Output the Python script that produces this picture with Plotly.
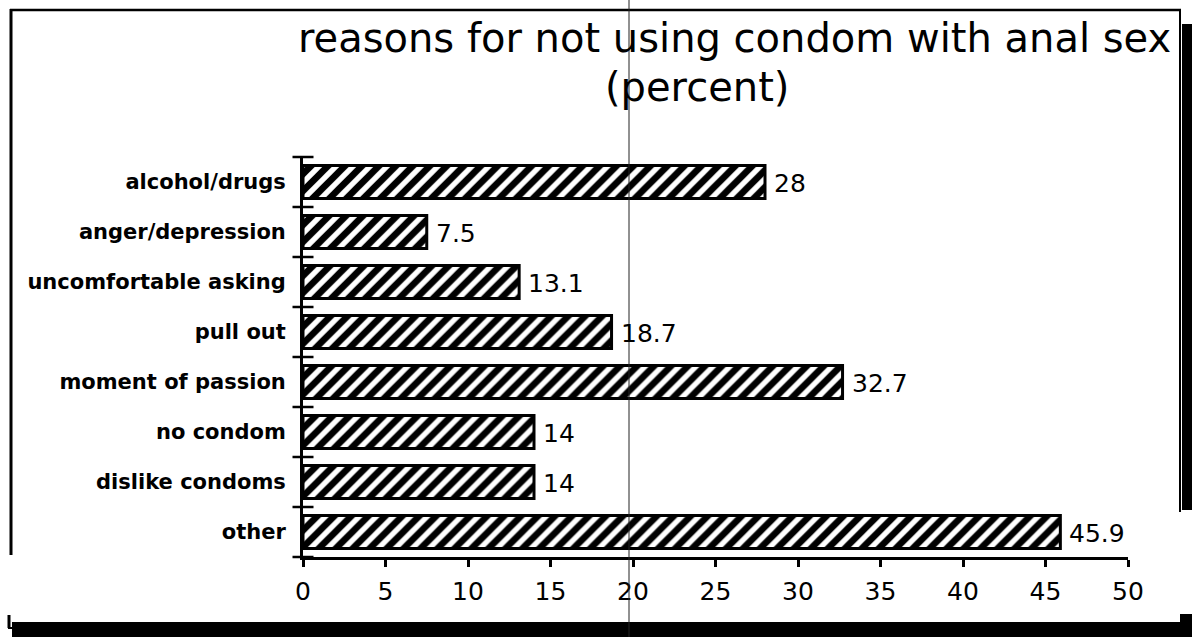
import plotly.graph_objects as go

# Survey results: reasons given for not using a condom with anal sex (percent)
categories = [
    "alcohol/drugs",
    "anger/depression",
    "uncomfortable asking",
    "pull out",
    "moment of passion",
    "no condom",
    "dislike condoms",
    "other",
]
percents = [28, 7.5, 13.1, 18.7, 32.7, 14, 14, 45.9]
x_tick_values = [0, 5, 10, 15, 20, 25, 30, 35, 40, 45, 50]

title_line1 = "reasons for not using condom with anal sex"
title_line2 = "(percent)"

W, H = 1192, 637
ML, MR, MT, MB = 303, 64, 157, 80
PW, PH = W - ML - MR, H - MT - MB


def px_x(p):
    """Page pixel column -> paper x."""
    return (p - ML) / PW


def px_y(p):
    """Page pixel row -> paper y."""
    return (H - MB - p) / PH


positions = list(range(len(categories)))
boundaries = [p - 0.5 for p in positions] + [positions[-1] + 0.5]

fig = go.Figure()

fig.add_trace(go.Bar(
    orientation="h",
    x=percents,
    y=positions,
    width=0.66,
    marker=dict(
        color="white",
        line=dict(color="black", width=3),
        pattern=dict(shape="/", fgcolor="black", bgcolor="white",
                     fgopacity=1, size=12, solidity=0.55),
    ),
    cliponaxis=False,
    hoverinfo="skip",
))

# cross-shaped category separators on the value axis
fig.add_trace(go.Scatter(
    x=[0] * len(boundaries),
    y=boundaries,
    mode="markers",
    marker=dict(symbol="line-ew", size=15, line=dict(color="black", width=2.5)),
    cliponaxis=False,
    hoverinfo="skip",
    showlegend=False,
))

fig.update_xaxes(
    range=[0, 50],
    tickmode="array",
    tickvals=x_tick_values,
    ticks="outside",
    ticklen=7,
    tickwidth=2.5,
    tickcolor="black",
    ticklabelstandoff=3,
    tickfont=dict(family="DejaVu Sans", size=25, color="black"),
    showline=True,
    linecolor="black",
    linewidth=3,
    showgrid=False,
    zeroline=False,
)

fig.update_yaxes(
    range=[positions[-1] + 0.5, -0.5],
    tickmode="array",
    tickvals=positions,
    ticktext=categories,
    ticks="",
    ticklabelstandoff=10,
    tickfont=dict(family="DejaVu Sans", size=21, color="black", weight="bold"),
    showline=True,
    linecolor="black",
    linewidth=3,
    showgrid=False,
    zeroline=False,
)

# value labels just past the end of each bar
value_labels = [
    dict(text=f"{v:g}", x=v, y=p, xref="x", yref="y",
         xanchor="left", yanchor="middle", xshift=7, yshift=-1, showarrow=False,
         font=dict(family="DejaVu Sans", size=25, color="black"))
    for v, p in zip(percents, positions)
]

titles = [
    dict(text=title_line1, x=px_x(734), y=px_y(38), xref="paper", yref="paper",
         xanchor="center", yanchor="middle", showarrow=False,
         font=dict(family="DejaVu Sans", size=40, color="black")),
    dict(text=title_line2, x=px_x(697), y=px_y(87), xref="paper", yref="paper",
         xanchor="center", yanchor="middle", showarrow=False,
         font=dict(family="DejaVu Sans", size=40, color="black")),
]


def line(x0, y0, x1, y1, w, color="black"):
    return dict(type="line", xref="paper", yref="paper",
                x0=px_x(x0), y0=px_y(y0), x1=px_x(x1), y1=px_y(y1),
                line=dict(color=color, width=w), layer="above")


def block(x0, y0, x1, y1):
    return dict(type="rect", xref="paper", yref="paper",
                x0=px_x(x0), y0=px_y(y0), x1=px_x(x1), y1=px_y(y1),
                fillcolor="black", line=dict(width=0), layer="above")


shapes = [
    # page frame with drop shadow
    line(10, 10, 1181, 10, 2.5),
    line(11, 9, 11, 555, 3),
    line(1180, 9, 1180, 512, 2),
    block(1182, 24, 1192, 510),
    block(12, 622, 1180, 637),
    block(1180, 614, 1192, 637),
    line(9, 615, 9, 628, 3),
    line(8, 628, 14, 628, 2),
    # thin vertical rule across the page
    line(629, 0, 629, 637, 1, "#222"),
]

fig.update_layout(
    width=W,
    height=H,
    autosize=False,
    margin=dict(l=ML, r=MR, t=MT, b=MB, pad=0),
    paper_bgcolor="white",
    plot_bgcolor="white",
    showlegend=False,
    annotations=titles + value_labels,
    shapes=shapes,
    bargap=0.34,
)

fig.write_html("out.html")
